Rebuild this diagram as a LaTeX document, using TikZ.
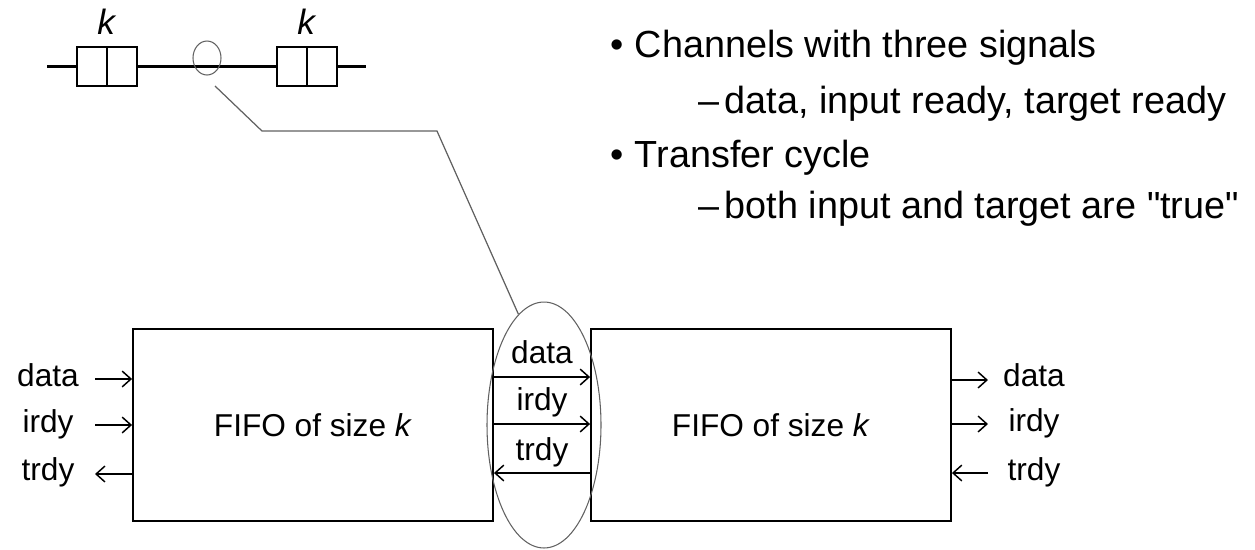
\documentclass[tikz,border=0pt]{standalone}
\usepackage{fontspec}
\setmainfont{Liberation Sans}[Ligatures=TeXOff]
\usetikzlibrary{arrows.meta,shapes.geometric}

\definecolor{tapgray}{gray}{0.38}

\begin{document}
\begin{tikzpicture}[x=0.02cm,y=-0.02cm,>={Straight Barb[length=5pt,width=9pt]},
  fifo/.style={draw,line width=1.1pt,minimum width=7.2cm,minimum height=3.84cm,inner sep=0pt,font=\fontsize{18}{22}\selectfont},
  cell/.style={draw,line width=1.6pt,minimum width=0.6cm,minimum height=0.78cm,inner sep=0pt,outer sep=0pt},
  wire/.style={line width=1.3pt},
  sig/.style={->,line width=0.85pt},
  lbl/.style={anchor=base,inner sep=0pt,font=\fontsize{18}{22}\selectfont},
  ring/.style={draw=tapgray,ellipse,line width=0.6pt,inner sep=0pt},
  txt/.style={anchor=base west,inner sep=0pt,font=\fontsize{21.5}{26}\selectfont}]
\useasboundingbox (0,0) rectangle (1255,549);

% two queues joined by one channel
\node[cell] (q1a) at (92,66.5) {};
\node[cell,anchor=west] (q1b) at (q1a.east) {};
\node[cell] (q2a) at (292,66.5) {};
\node[cell,anchor=west] (q2b) at (q2a.east) {};
\node[lbl,font=\fontsize{20}{24}\selectfont] (k1) at (q1a.east |- 0,34) {\textit{k}};
\node[lbl,font=\fontsize{20}{24}\selectfont] (k2) at (q2a.east |- 0,34) {\textit{k}};
\coordinate (wL) at (47,66.5);
\coordinate (wR) at (366,66.5);
\draw[wire] (wL) -- (q1a);
\draw[wire] (q1b) -- (q2a);
\draw[wire] (q2b) -- (wR);
\node[ring,minimum width=0.56cm,minimum height=0.68cm] (tap) at (207,58) {};

% the channel blown up
\node[fifo] (fifoL) at (313,425) {FIFO of size \textit{k}};
\node[fifo] (fifoR) at (771,425) {FIFO of size \textit{k}};
\node[ring,minimum width=2.28cm,minimum height=4.92cm] (chan) at (544,425) {};
\coordinate (tapEnd) at (215,86);
\draw[tapgray,line width=0.7pt] (tapEnd) -- (262,131) -- (437,131) -- (chan.103);

\draw[sig] (fifoL.east |- 0,377) -- (fifoR.west |- 0,377);
\draw[sig] (fifoL.east |- 0,424) -- (fifoR.west |- 0,424);
\draw[sig] (fifoR.west |- 0,473) -- (fifoL.east |- 0,473);
\node[lbl] (mData) at (542,363) {data};
\node[lbl] (mIrdy) at (542,410) {irdy};
\node[lbl] (mTrdy) at (542,460) {trdy};

% inputs
\coordinate (inData) at (95,379);
\coordinate (inIrdy) at (95,425);
\coordinate (outTrdy) at (95,474);
\draw[sig] (inData) -- (inData -| fifoL.west);
\draw[sig] (inIrdy) -- (inIrdy -| fifoL.west);
\draw[sig] (outTrdy -| fifoL.west) -- (outTrdy);
\node[lbl] (lData) at (48,386) {data};
\node[lbl] (lIrdy) at (48,432) {irdy};
\node[lbl] (lTrdy) at (48,480) {trdy};

% outputs
\coordinate (outData) at (988,380);
\coordinate (outIrdy) at (988,424);
\coordinate (inTrdy) at (988,473);
\draw[sig] (outData -| fifoR.east) -- (outData);
\draw[sig] (outIrdy -| fifoR.east) -- (outIrdy);
\draw[sig] (inTrdy) -- (inTrdy -| fifoR.east);
\node[lbl] (rData) at (1034,386) {data};
\node[lbl] (rIrdy) at (1034,431) {irdy};
\node[lbl] (rTrdy) at (1034,480) {trdy};

% notes
\node[txt] (b1) at (610,57) {\textbullet\hspace{0.3em}Channels with three signals};
\node[txt] (b1a) at (698,113) {–\hspace{0.15em}data, input ready, target ready};
\node[txt] (b2) at (610,167) {\textbullet\hspace{0.3em}Transfer cycle};
\node[txt] (b2a) at (698,218) {–\hspace{0.15em}both input and target are "true"};
\end{tikzpicture}
\end{document}
